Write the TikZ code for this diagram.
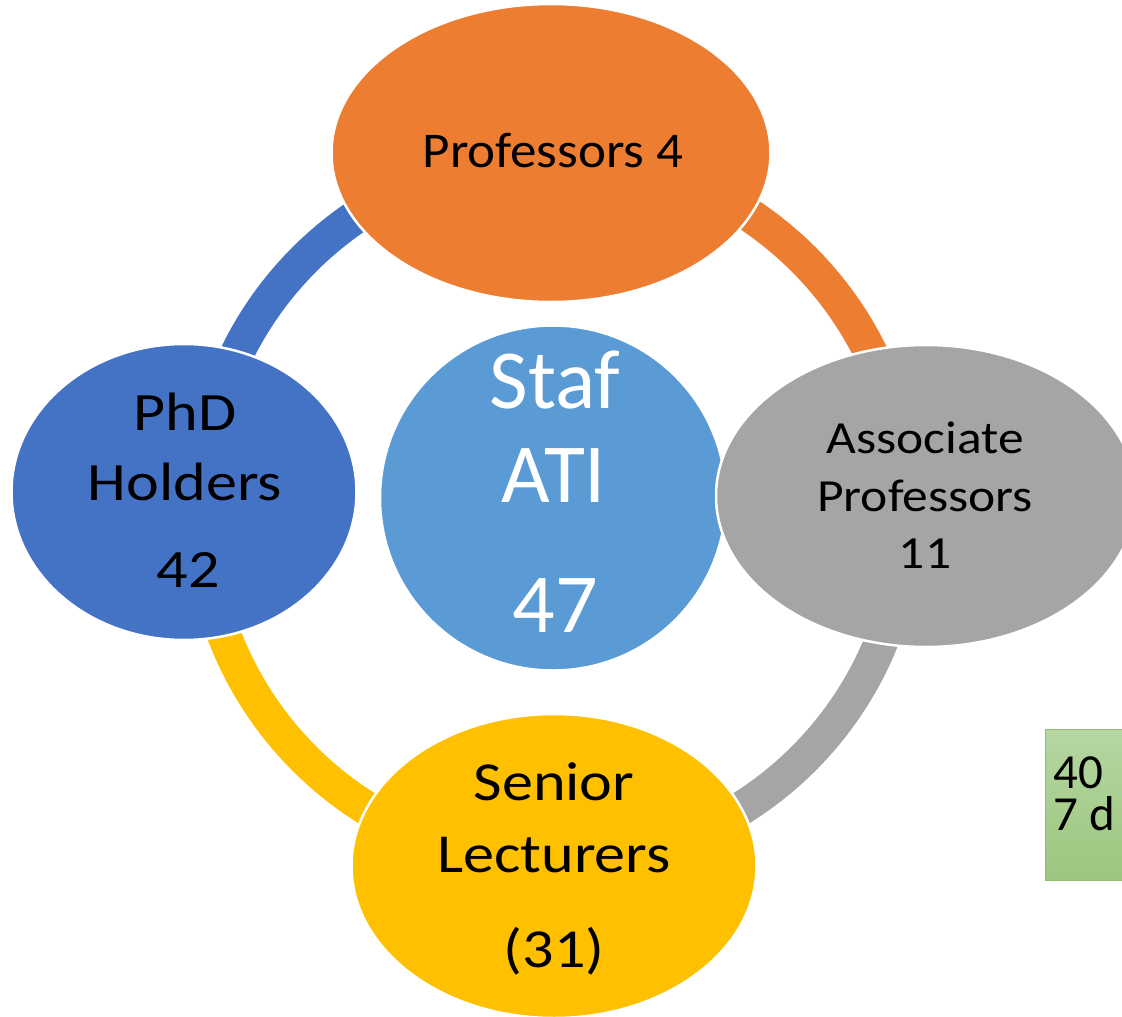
\documentclass[tikz,border=0pt]{standalone}
\usepackage{fontspec}
\usepackage{graphicx}
\setmainfont{Carlito}
\usetikzlibrary{shapes.geometric}
\definecolor{corange}{HTML}{ED7D31}
\definecolor{cgray}{HTML}{A5A5A5}
\definecolor{cyellow}{HTML}{FFC000}
\definecolor{cblue}{HTML}{4472C4}
\definecolor{clight}{HTML}{5B9BD5}
\definecolor{gtop}{HTML}{B5D6A1}
\definecolor{gbot}{HTML}{9CC67F}
\definecolor{gedge}{HTML}{8DBE6E}
\begin{document}
\begin{tikzpicture}[x=1pt,y=-1pt,
  blob/.style={ellipse, draw=white, line width=2.5pt, inner sep=0pt},
  ringseg/.style={line width=34pt},
  lbl/.style={anchor=base, inner sep=0pt},
  wlbl/.style={anchor=base, inner sep=0pt, text=white}]
\useasboundingbox (0,0) rectangle (1122,1017);
\coordinate (rc) at (554,509);
% ring segments
\draw[ringseg, draw=corange] ([shift={(-90:353)}]rc) arc[start angle=-90, end angle=0, radius=353];
\draw[ringseg, draw=cgray] ([shift={(0:353)}]rc) arc[start angle=0, end angle=90, radius=353];
\draw[ringseg, draw=cyellow] ([shift={(90:353)}]rc) arc[start angle=90, end angle=180, radius=353];
\draw[ringseg, draw=cblue] ([shift={(180:353)}]rc) arc[start angle=180, end angle=270, radius=353];
% centre
\node[blob, fill=clight, minimum width=346pt, minimum height=345pt] (ctr) at (553,498) {};
% outer nodes
\node[blob, fill=corange, minimum width=439pt, minimum height=298pt] (prof) at (551,153) {};
\node[blob, fill=cgray, minimum width=420pt, minimum height=302pt] (assoc) at (926,496) {};
\node[blob, fill=cyellow, minimum width=405pt, minimum height=304pt] (senior) at (554,866) {};
\node[blob, fill=cblue, minimum width=345pt, minimum height=296pt] (phd) at (184,492) {};
% texts
\node[lbl, font=\fontsize{50}{60}\selectfont] (tprof) at (553,167) {\scalebox{1.06}[1]{Professors 4}};
\node[wlbl, font=\fontsize{84}{100}\selectfont] (tc1) at (555,408) {Staf};
\node[wlbl, font=\fontsize{84}{100}\selectfont] (tc2) at (554,502) {ATI};
\node[wlbl, font=\fontsize{84}{100}\selectfont] (tc3) at (555,632) {47};
\node[lbl, font=\fontsize{54}{64}\selectfont] (tp1) at (185,430) {\scalebox{1.15}[1]{PhD}};
\node[lbl, font=\fontsize{54}{64}\selectfont] (tp2) at (185,500) {\scalebox{1.15}[1]{Holders}};
\node[lbl, font=\fontsize{54}{64}\selectfont] (tp3) at (188,587) {\scalebox{1.15}[1]{42}};
\node[lbl, font=\fontsize{46}{56}\selectfont] (ta1) at (925,453) {\scalebox{1.12}[1]{Associate}};
\node[lbl, font=\fontsize{46}{56}\selectfont] (ta2) at (925,511) {\scalebox{1.12}[1]{Professors}};
\node[lbl, font=\fontsize{46}{56}\selectfont] (ta3) at (925,568) {\scalebox{1.12}[1]{11}};
\node[lbl, font=\fontsize{55}{64}\selectfont] (ts1) at (554,800) {\scalebox{1.13}[1]{Senior}};
\node[lbl, font=\fontsize{55}{64}\selectfont] (ts2) at (554,872) {\scalebox{1.13}[1]{Lecturers}};
\node[lbl, font=\fontsize{55}{64}\selectfont] (ts3) at (554,967) {\scalebox{1.13}[1]{(31)}};
% green box
\node[draw=gedge, line width=1pt, top color=gtop, bottom color=gbot, minimum width=95pt, minimum height=151pt, anchor=north west, inner sep=0pt] (gbox) at (1045,729) {};
\node[anchor=base west, inner sep=0pt, text depth=0pt, font=\fontsize{49}{58}\selectfont] (g1) at (1053,788) {40};
\node[anchor=base west, inner sep=0pt, text height=34pt, font=\fontsize{49}{58}\selectfont] (g2) at (1053,830) {7 d};
\end{tikzpicture}
\end{document}
